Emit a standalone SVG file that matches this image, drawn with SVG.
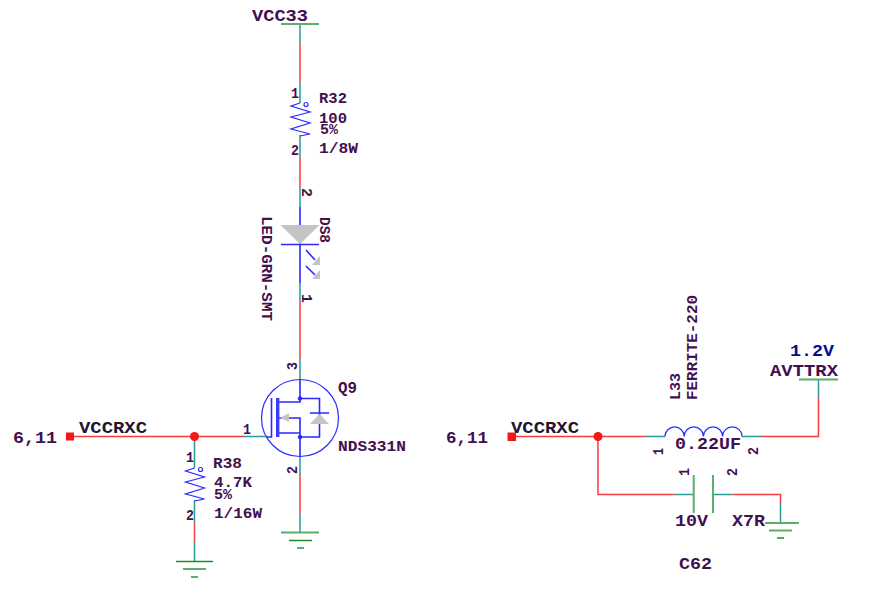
<svg xmlns="http://www.w3.org/2000/svg" width="876" height="592" viewBox="0 0 876 592">
<style>
text{font-family:"Liberation Mono","DejaVu Sans Mono",monospace;font-weight:bold;fill:#43104f;font-size:15px}
.b{font-size:17px}
.k{fill:#23152f;font-size:17px}
.n{fill:#0a0a96;font-size:17px}
.r,.t,.g,.u,.d{fill:none;stroke-width:1.5}
.r{stroke:#f63c3c}
.t{stroke:#2a9a96}
.g{stroke:#5cae68;stroke-width:2}
.d{stroke:#1f8a2a;stroke-width:1.5}
.u{stroke:#2a2aff;stroke-width:1.2}
.m{stroke:#2a2aff;stroke-width:1.6;fill:none}
.x{fill:#c4c4c4}
.dot{fill:#2a2aff}
.j{fill:#f01818}
</style>
<rect width="876" height="592" fill="#fff"/>
<g id="connectors">
<path class="t" d="M300 24V43M300 81V103M300 135V157M300 187V207M300 283V302M300 359V379M300 456V475M300 513V532"/>
<path class="r" d="M300 43V81M300 157V187M300 302V359M300 475V513"/>
<path class="r" d="M74 436.500H243"/>
<path class="t" d="M243 436.500H267"/>
<path class="t" d="M194.500 441V468M194.500 500V523M194.500 541V561"/>
<path class="r" d="M194.500 523V541"/>
<path class="r" d="M516 436.500H646M761 436.500H818.500V398M598 436.500V494.500H674.500M732.500 494.500H780.500V504"/>
<path class="t" d="M646 436.500H665M742 436.500H761M818.500 398V379M674.500 494.500H694M713 494.500H732.500M780.500 504V523"/>
</g>
<g id="VCC33"><path class="g" d="M281 24H319"/><text class="b" x="252" y="21" textLength="56" lengthAdjust="spacingAndGlyphs">VCC33</text></g>
<g id="R32">
<path class="u" d="M300 103L291 106L310 112L291 117L310 123L291 129L310 134L300 136"/><circle class="u" cx="306" cy="104.500" r="2"/>
<text x="291" y="98" textLength="8" lengthAdjust="spacingAndGlyphs">1</text>
<text x="291" y="155" textLength="8" lengthAdjust="spacingAndGlyphs">2</text>
<text x="319" y="103" textLength="28" lengthAdjust="spacingAndGlyphs">R32</text>
<text x="319" y="123" textLength="28" lengthAdjust="spacingAndGlyphs">100</text>
<text x="320" y="134" textLength="18" lengthAdjust="spacingAndGlyphs">5%</text>
<text x="319" y="153" textLength="39" lengthAdjust="spacingAndGlyphs">1/8W</text>
</g>
<g id="DS8">
<path class="m" d="M300 207V283M281 244.500H319M306 250L315 260M306 266L315 275"/>
<path class="x" d="M280.500 225H319.500L300 244ZM320 256V265H312ZM320 270V279H312Z"/>
<text transform="translate(302 188) rotate(90)" textLength="9" lengthAdjust="spacingAndGlyphs">2</text>
<text transform="translate(302 294) rotate(90)" textLength="9" lengthAdjust="spacingAndGlyphs">1</text>
<text transform="translate(262 216) rotate(90)" textLength="105" lengthAdjust="spacingAndGlyphs">LED-GRN-SMT</text>
<text transform="translate(320 217) rotate(90)" textLength="26" lengthAdjust="spacingAndGlyphs">DS8</text>
</g>
<g id="Q9">
<circle class="u" cx="300" cy="418" r="38.500"/>
<path class="m" d="M300 379V402H278M278 418H300V456M278 433H300M300 398.500H319.500V437H300M271.500 398V437H267M310 413H329"/>
<path d="M277.700 398V437" stroke="#3c3cff" stroke-width="3.400" fill="none"/>
<path class="x" d="M310 424H329L319.500 414ZM280 417.700L289 413.300V421.700Z"/>
<circle class="dot" cx="300" cy="398.500" r="2.200"/><circle class="dot" cx="300" cy="437" r="2.200"/>
<text transform="translate(297 370) rotate(-90)" textLength="8" lengthAdjust="spacingAndGlyphs">3</text>
<text transform="translate(297 474) rotate(-90)" textLength="8" lengthAdjust="spacingAndGlyphs">2</text>
<text x="243" y="434" textLength="8" lengthAdjust="spacingAndGlyphs">1</text>
<text class="b" x="338" y="393" textLength="19" lengthAdjust="spacingAndGlyphs">Q9</text>
<text x="338" y="451" textLength="68" lengthAdjust="spacingAndGlyphs">NDS331N</text>
</g>
<g id="GND1"><path class="g" d="M281 532.500H319"/><path class="d" d="M289 540.500H312"/><path class="g" d="M297 548H304"/></g>
<g id="NET1"><rect class="j" x="66" y="432.500" width="8" height="8"/><circle class="j" cx="194.500" cy="436.500" r="4.500"/>
<text class="b" x="13" y="443" textLength="44" lengthAdjust="spacingAndGlyphs">6,11</text>
<text class="k" x="79" y="433" textLength="68" lengthAdjust="spacingAndGlyphs">VCCRXC</text></g>
<g id="R38">
<path class="u" d="M194.500 468L185.500 471L204.500 477L185.500 482L204.500 488L185.500 494L204.500 499L194.500 501"/><circle class="u" cx="200.500" cy="469.500" r="2"/>
<text x="186" y="462" textLength="8" lengthAdjust="spacingAndGlyphs">1</text>
<text x="186" y="520" textLength="8" lengthAdjust="spacingAndGlyphs">2</text>
<text x="213" y="468" textLength="29" lengthAdjust="spacingAndGlyphs">R38</text>
<text x="214" y="487" textLength="38" lengthAdjust="spacingAndGlyphs">4.7K</text>
<text x="214" y="499" textLength="18" lengthAdjust="spacingAndGlyphs">5%</text>
<text x="214" y="518" textLength="48" lengthAdjust="spacingAndGlyphs">1/16W</text>
</g>
<g id="GND2"><path class="d" d="M176 561.500H213"/><path class="g" d="M183 569H206M191 577H198"/></g>
<g id="NET2"><rect class="j" x="507.500" y="432.500" width="8.500" height="8.500"/><circle class="j" cx="598" cy="436.500" r="4.500"/>
<text class="b" x="446" y="443" textLength="42" lengthAdjust="spacingAndGlyphs">6,11</text>
<text class="k" x="511" y="433" textLength="68" lengthAdjust="spacingAndGlyphs">VCCRXC</text></g>
<g id="L33">
<path class="u" d="M665 436.500A9.600 9.600 0 0 1 684.200 436.500A9.600 9.600 0 0 1 703.400 436.500A9.600 9.600 0 0 1 722.600 436.500A9.600 9.600 0 0 1 742 436.500"/>
<text transform="translate(680 400) rotate(-90)" textLength="27" lengthAdjust="spacingAndGlyphs">L33</text>
<text transform="translate(697 400) rotate(-90)" textLength="105" lengthAdjust="spacingAndGlyphs">FERRITE-220</text>
<text class="b" x="675" y="449" textLength="66" lengthAdjust="spacingAndGlyphs">0.22UF</text>
<text transform="translate(663 455) rotate(-90)" textLength="7" lengthAdjust="spacingAndGlyphs">1</text>
<text transform="translate(758 455) rotate(-90)" textLength="8" lengthAdjust="spacingAndGlyphs">2</text>
</g>
<g id="AVTTRX"><path class="g" d="M799 379.500H838"/>
<text class="n" x="790" y="356" textLength="44" lengthAdjust="spacingAndGlyphs">1.2V</text>
<text class="b" x="770" y="376" textLength="68" lengthAdjust="spacingAndGlyphs">AVTTRX</text></g>
<g id="C62">
<path class="g" d="M693.700 475V513M713 475V513"/>
<text transform="translate(689 476) rotate(-90)" textLength="8" lengthAdjust="spacingAndGlyphs">1</text>
<text transform="translate(737 476) rotate(-90)" textLength="8" lengthAdjust="spacingAndGlyphs">2</text>
<text class="b" x="675" y="526" textLength="33" lengthAdjust="spacingAndGlyphs">10V</text>
<text class="b" x="732" y="526" textLength="33" lengthAdjust="spacingAndGlyphs">X7R</text>
<text class="b" x="679" y="569" textLength="33" lengthAdjust="spacingAndGlyphs">C62</text>
</g>
<g id="GND3"><path class="g" d="M765 523H799M769 530.500H792"/><path class="d" d="M777 538H784"/></g>
</svg>
